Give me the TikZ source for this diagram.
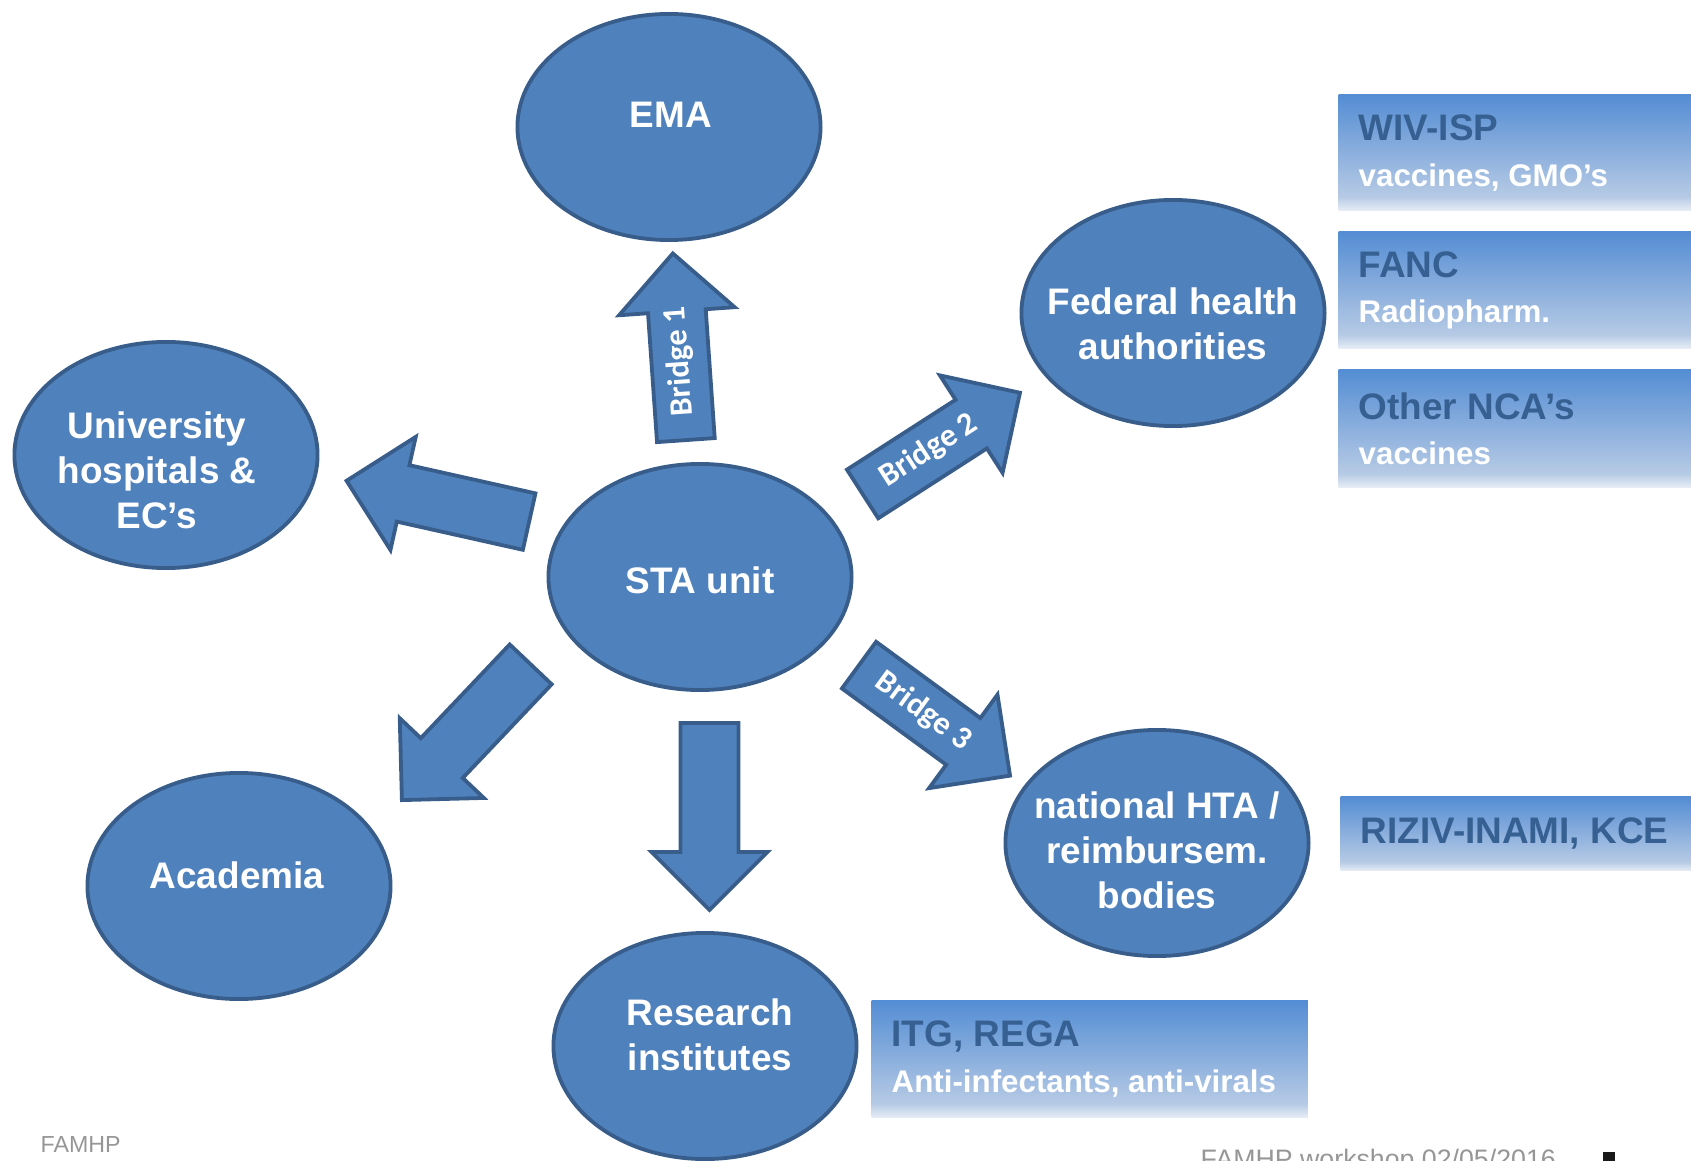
\documentclass[tikz,border=0pt]{standalone}
\usepackage{fontspec}
\setmainfont{Liberation Sans}
\newfontfamily\bridgefont{Carlito}
\usetikzlibrary{shapes.geometric,shapes.arrows}
\definecolor{bubblefill}{RGB}{79,129,189}
\definecolor{bubbleedge}{RGB}{56,93,138}
\definecolor{boxhead}{RGB}{55,96,146}
\definecolor{fadetop}{RGB}{84,141,212}
\definecolor{fadelow}{RGB}{182,202,229}
\definecolor{fadeend}{RGB}{232,238,246}
\definecolor{footgray}{RGB}{150,150,150}
\pgfdeclareverticalshading{boxfade}{100bp}{color(0bp)=(fadeend); color(25bp)=(fadeend); color(31bp)=(fadelow); color(75bp)=(fadetop); color(100bp)=(fadetop)}
\newcommand\boxline[1]{{\color{white}\fontsize{8.9}{13}\selectfont #1}}

\begin{document}
\begin{tikzpicture}[x=0.01cm, y=-0.01cm,
    main/.style = {ellipse, draw=bubbleedge, line width=0.038cm, fill=bubblefill, minimum width=3.03cm, minimum height=2.26cm, inner sep=0pt},
    maintext/.style = {align=center, text=white, font=\fontsize{10.5}{12.8}\selectfont\bfseries},
    bridge/.style = {single arrow, draw=bubbleedge, line width=0.038cm, fill=bubblefill, minimum height=1.87cm, minimum width=1.12cm, single arrow head extend=0.29cm, text height=0.22cm, text depth=0.06cm, inner ysep=0.13cm, inner xsep=2pt, anchor=tail, text=white, font=\bridgefont\fontsize{9.2}{11}\selectfont\bfseries},
    box/.style = {rectangle, shade, shading=boxfade, anchor=north west, inner xsep=0.2cm, align=flush left, text=boxhead, font=\fontsize{10.5}{13}\selectfont\bfseries},
    foot/.style = {anchor=base west, inner sep=0pt, text=footgray}]
        \useasboundingbox (0,0) rectangle (1691,1161);
        \node[main] (ema) at (669,127) {};
        \node[main] (fed) at (1173,313) {};
        \node[main] (uni) at (166,455) {};
        \node[main] (sta) at (700,577) {};
        \node[main] (acad) at (239,886) {};
        \node[main] (hta) at (1157,843) {};
        \node[main] (res) at (705,1046) {};
        \node[maintext] (emat) at (671,115) {EMA};
        \node[maintext] (fedt) at (1173,324) {Federal health\\authorities};
        \node[maintext] (unit) at (157,470) {University\\hospitals \&\\EC's};
        \node[maintext] (stat) at (700,580) {STA unit};
        \node[maintext] (acadt) at (237,875) {Academia};
        \node[maintext] (htat) at (1157,850) {national HTA /\\reimbursem.\\bodies};
        \node[maintext] (rest) at (710,1035) {Research\\institutes};
        \node[bridge, rotate=94] (br1) at (686,442) {Bridge 1};
        \node[bridge, rotate=32.75] (br2) at (861,495) {Bridge 2};
        \node[bridge, rotate=-36.2] (br3) at (857.5,664) {Bridge 3};
        \node[bridge, rotate=167.4] (touni) at (531,522) {};
        \node[bridge, rotate=-133.5] (toacad) at (532,663) {};
        \node[bridge, rotate=-90] (tores) at (709.5,721) {};
        \node[box, minimum width=3.53cm, minimum height=1.16cm, text width=3.13cm] (wiv) at (1338,94) {WIV-ISP\\\boxline{vaccines, GMO's}};
        \node[box, minimum width=3.53cm, minimum height=1.17cm, text width=3.13cm] (fanc) at (1338,231) {FANC\\\boxline{Radiopharm.}};
        \node[box, minimum width=3.53cm, minimum height=1.18cm, text width=3.13cm] (nca) at (1338,369) {Other NCA's\\\boxline{vaccines}};
        \node[box, minimum width=3.51cm, minimum height=0.74cm, text width=3.11cm] (riziv) at (1340,796) {RIZIV-INAMI, KCE};
        \node[box, minimum width=4.36cm, minimum height=1.17cm, text width=3.96cm] (itg) at (871,1000) {ITG, REGA\\\boxline{Anti-infectants, anti-virals}};
        \node[foot, font=\fontsize{6.6}{8}\selectfont] (famhp) at (40,1152) {FAMHP};
        \node[foot, font=\fontsize{7.6}{9}\selectfont] (workshop) at (1200,1168) {FAMHP workshop 02/05/2016};
        \fill[black!90] (1603,1152) rectangle (1615,1161);
\end{tikzpicture}
\end{document}
